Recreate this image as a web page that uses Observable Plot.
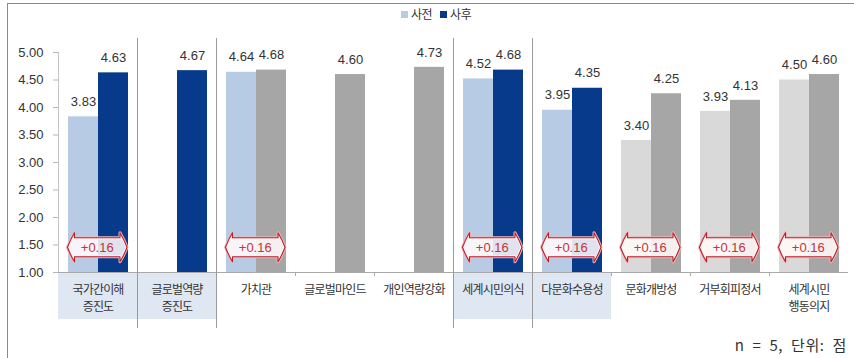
<!DOCTYPE html>
<html><head><meta charset="utf-8">
<script src="https://cdn.jsdelivr.net/npm/d3@7"></script>
<script src="https://cdn.jsdelivr.net/npm/@observablehq/plot@0.6"></script>
<style>
html,body{margin:0;padding:0;background:#fff;width:854px;height:358px;overflow:hidden;position:relative;font-family:"Noto Sans CJK KR","Noto Sans",sans-serif;}
#frame{position:absolute;left:7px;top:3px;width:900px;height:400px;border-left:1.5px solid #8a8a8a;border-top:1.5px solid #8a8a8a;box-sizing:border-box;}
#legend{position:absolute;top:5px;left:401px;height:18px;line-height:18px;font-size:12px;color:#333;display:flex;align-items:center;white-space:nowrap;}
#legend .sw{display:inline-block;width:7px;height:7px;margin-right:3px;}
#legend .item{display:flex;align-items:center;margin-right:8px;letter-spacing:-0.5px;}
#chart{position:absolute;top:32px;left:0;}
#note{position:absolute;right:7px;top:335px;height:20px;line-height:20px;font-size:15px;color:#333;font-family:"Noto Sans CJK KR","Noto Sans",sans-serif;word-spacing:4px;letter-spacing:0.6px;font-weight:400;}
.catlabels text{letter-spacing:-0.8px;}
</style>
</head><body>
<div id="frame"></div>
<div id="legend"></div>
<div id="chart"></div>
<div id="note"></div>
<script>
// ---- data ----
const categories = ["국가간이해\n증진도", "글로벌역량\n증진도", "가치관", "글로벌마인드", "개인역량강화", "세계시민의식", "다문화수용성", "문화개방성", "거부회피정서", "세계시민\n행동의지"];
const seriesNames = ["사전", "사후"];
const preValues  = [3.83, null, 4.64, null, null, 4.52, 3.95, 3.40, 3.93, 4.50];
const postValues = [4.63, 4.67, 4.68, 4.60, 4.73, 4.68, 4.35, 4.25, 4.13, 4.60];
const preKind  = ["blue", null, "blue", null, null, "blue", "blue", "lgray", "lgray", "lgray"];
const postKind = ["navy", "navy", "gray", "gray", "gray", "navy", "navy", "gray", "gray", "gray"];
const badgeLabels = ["+0.16", null, "+0.16", null, null, "+0.16", "+0.16", "+0.16", "+0.16", "+0.16"];
const highlighted = [true, true, false, false, false, true, true, false, false, false];
const groupBreaks = [1, 2, 5, 6];
const yTicks = [1.0, 1.5, 2.0, 2.5, 3.0, 3.5, 4.0, 4.5, 5.0];
const noteText = "n = 5, 단위: 점";

// ---- styles ----
const palette = {blue: "#b8cbe4", navy: "#073a8b", gray: "#a6a6a6", lgray: "#d9d9d9"};
const W = 854, H = 300, mL = 58, mR = 6, mT = 20, mB = 60;
const step = (W - mL - mR) / categories.length;
const pxPerUnit = (H - mT - mB) / 4;
const px = p => p / pxPerUnit; // pixel length in value units
const badgeY = 1.45;

// legend
const legend = document.getElementById("legend");
[["blue", seriesNames[0]], ["navy", seriesNames[1]]].forEach(([k, name]) => {
  const it = document.createElement("span"); it.className = "item";
  const sw = document.createElement("span"); sw.className = "sw"; sw.style.background = palette[k];
  it.appendChild(sw); it.appendChild(document.createTextNode(name));
  legend.appendChild(it);
});
document.getElementById("note").textContent = noteText;

const preData = categories.map((c, i) => ({cat: c, v: preValues[i], kind: preKind[i]})).filter(d => d.v != null);
const postData = categories.map((c, i) => ({cat: c, v: postValues[i], kind: postKind[i]})).filter(d => d.v != null);
const hlData = categories.filter((c, i) => highlighted[i]);
const breakData = groupBreaks.map(i => categories[i]);
const boundaryData = categories.filter((c, i) => i > 0 && !groupBreaks.includes(i));

function badgeMark(index, scales) {
  const x = scales.x, y = scales.y;
  const g = d3.create("svg:g");
  categories.forEach((c, i) => {
    const lab = badgeLabels[i];
    if (!lab) return;
    const bl = x(c);
    const L = bl + 9.5, R = bl + 69, cy = y(badgeY);
    const Hh = 14.5, hb = 9.5, a = 7;
    const p = `M${L},${cy} Q${L + 3},${cy - 8} ${L + a},${cy - Hh} L${L + a},${cy - hb} L${R - a},${cy - hb} L${R - a},${cy - Hh} Q${R - 3},${cy - 8} ${R},${cy} Q${R - 3},${cy + 8} ${R - a},${cy + Hh} L${R - a},${cy + hb} L${L + a},${cy + hb} L${L + a},${cy + Hh} Q${L + 3},${cy + 8} ${L},${cy} Z`;
    g.append("path").attr("d", p).attr("fill", "none").attr("stroke", "#f3b5b8").attr("stroke-width", 3).attr("stroke-linejoin", "round");
    g.append("path").attr("d", p).attr("fill", "rgba(255,250,250,0.88)").attr("stroke", "#b8202a").attr("stroke-width", 1.1).attr("stroke-linejoin", "round");
    g.append("text").attr("x", (L + R) / 2).attr("y", cy).attr("dy", "0.36em")
      .attr("text-anchor", "middle").attr("fill", "#c8323a")
      .attr("font-family", "'Liberation Sans', Arial, sans-serif").attr("font-size", 13)
      .text(lab);
  });
  return g.node();
}

const chart = Plot.plot({
  width: W, height: H,
  marginTop: mT, marginBottom: mB, marginLeft: mL, marginRight: mR,
  x: {type: "band", domain: categories, padding: 0, axis: null},
  y: {domain: [1, 5], axis: null, label: null},
  color: {type: "identity"},
  style: {fontFamily: "'Liberation Sans', Arial, sans-serif", fontSize: "13px", color: "#333", background: "transparent", overflow: "visible"},
  marks: [
    // label backgrounds
    Plot.barY(hlData, {x: d => d, y1: 1 - px(47), y2: 1 - px(1), fill: "#dfe7f3"}),
    // axes lines
    Plot.ruleY([1], {stroke: "#a9a9a9"}),
    Plot.ruleX([categories[0]], {x: d => d, dx: -step / 2, y1: 1, y2: 5, stroke: "#c4c4c4"}),
    Plot.axisY(yTicks, {tickSize: 5, tickPadding: 10, tickFormat: d => d.toFixed(2), stroke: "#b5b5b5", color: "#333", fontSize: 13, label: null}),
    // boundary ticks
    Plot.ruleX(boundaryData, {x: d => d, dx: -step / 2, y1: 1 - px(4), y2: 1, stroke: "#a9a9a9"}),
    // group separators
    Plot.ruleX(breakData, {x: d => d, dx: -step / 2, y1: 1 - px(56), y2: 5 + px(14), stroke: "#9a9a9a"}),
    // bars
    Plot.barY(preData, {x: "cat", y1: 1, y2: "v", fill: d => palette[d.kind], insetLeft: 10, insetRight: 39}),
    Plot.barY(postData, {x: "cat", y1: 1, y2: "v", fill: d => palette[d.kind], insetLeft: 40, insetRight: 9}),
    // badges
    badgeMark,
    // value labels
    Plot.text(preData, {x: "cat", y: "v", text: d => d.v.toFixed(2), dx: -14.5, dy: -15, fill: "#333", fontSize: 13}),
    Plot.text(postData, {x: "cat", y: "v", text: d => d.v.toFixed(2), dx: 15.5, dy: -15, fill: "#333", fontSize: 13}),
    // category labels
    Plot.text(categories, {x: d => d, y: 1, text: d => d, lineAnchor: "top", dy: 9, lineHeight: 1.42, fontSize: 12, fill: "#333", fontFamily: "'Noto Sans CJK KR', sans-serif", className: "catlabels"})
  ]
});
document.getElementById("chart").appendChild(chart);
</script>
</body></html>
